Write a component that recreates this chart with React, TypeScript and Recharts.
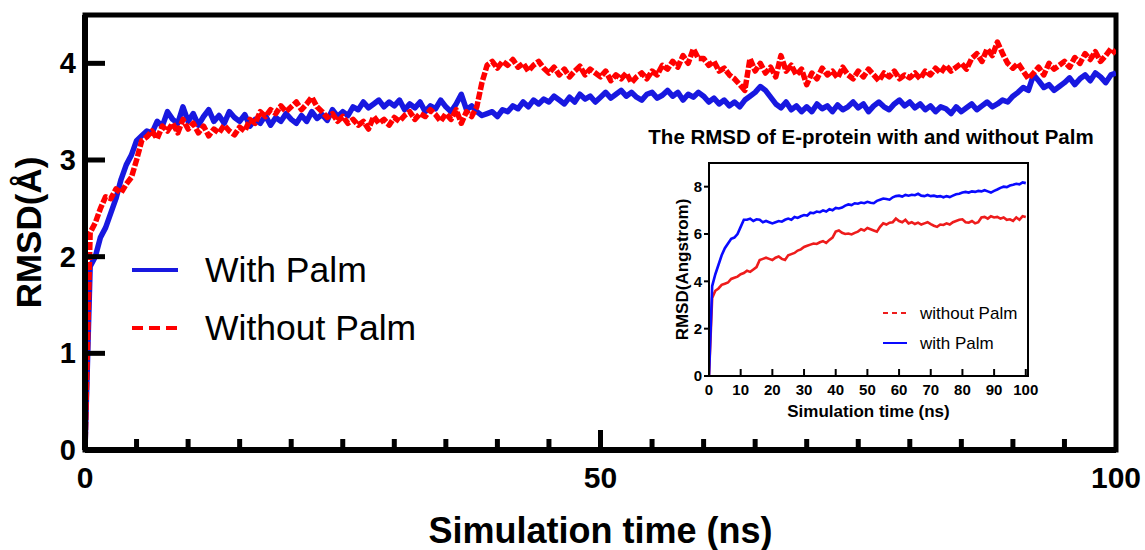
import React from 'react';
import { LineChart, Line, XAxis, YAxis, ReferenceArea, Legend } from 'recharts';

const FONT = "Arial, 'Liberation Sans', Helvetica, sans-serif";

// ---------- main chart data (0.5 ns step) ----------
const MAIN_TIME_STEP = 0.5;
const WITH_PALM = [
  0, 1.9, 2.0, 2.2, 2.3, 2.45, 2.6, 2.8, 2.95, 3.05,
  3.2, 3.25, 3.3, 3.28, 3.4, 3.35, 3.5, 3.42, 3.38, 3.55,
  3.4, 3.48, 3.36, 3.45, 3.52, 3.4, 3.46, 3.38, 3.5, 3.44,
  3.4, 3.47, 3.35, 3.42, 3.38, 3.46, 3.36, 3.44, 3.4, 3.48,
  3.42, 3.38, 3.46, 3.4, 3.5, 3.43, 3.47, 3.41, 3.52, 3.45,
  3.5, 3.46, 3.55, 3.52, 3.6, 3.54, 3.58, 3.62, 3.55, 3.6,
  3.56, 3.62, 3.52, 3.58, 3.54, 3.6, 3.5, 3.56, 3.53, 3.62,
  3.55, 3.5, 3.58, 3.68, 3.52, 3.56, 3.5, 3.46, 3.48, 3.5,
  3.45, 3.52, 3.5, 3.56, 3.53, 3.6, 3.55, 3.62, 3.58, 3.63,
  3.6, 3.66, 3.62, 3.58, 3.65, 3.6, 3.68, 3.63, 3.66, 3.6,
  3.65, 3.7, 3.64, 3.68, 3.72, 3.66, 3.7, 3.65, 3.62, 3.68,
  3.7, 3.64, 3.67, 3.72, 3.66, 3.7, 3.62, 3.68, 3.65, 3.7,
  3.66, 3.6, 3.64, 3.58, 3.62, 3.56, 3.6, 3.55, 3.62, 3.66,
  3.7, 3.76, 3.72, 3.65, 3.58, 3.54, 3.6, 3.52, 3.56, 3.5,
  3.55, 3.5, 3.58, 3.53, 3.56, 3.5, 3.57, 3.52, 3.55, 3.6,
  3.54, 3.58, 3.5, 3.56, 3.6, 3.55, 3.52, 3.58, 3.62, 3.56,
  3.6, 3.54, 3.58, 3.52, 3.56, 3.5, 3.55, 3.53, 3.48, 3.55,
  3.5, 3.54, 3.58, 3.52, 3.56, 3.6, 3.55, 3.58, 3.62, 3.6,
  3.66, 3.7, 3.75, 3.72, 3.88, 3.82, 3.75, 3.78, 3.72, 3.76,
  3.8, 3.85, 3.78, 3.84, 3.88, 3.82, 3.9, 3.86, 3.8, 3.88,
  3.9,
];
const WITHOUT_PALM = [
  0, 2.25, 2.35, 2.5, 2.62, 2.6, 2.7, 2.66, 2.75, 2.82,
  3.0, 3.2, 3.24, 3.3, 3.22, 3.35, 3.3, 3.38, 3.28, 3.42,
  3.32, 3.38, 3.28, 3.35, 3.25, 3.32, 3.28, 3.36, 3.3, 3.26,
  3.34, 3.3, 3.42, 3.38, 3.5, 3.45, 3.52, 3.48, 3.56, 3.5,
  3.55, 3.6, 3.52, 3.58, 3.65, 3.55, 3.5, 3.44, 3.48, 3.4,
  3.45, 3.38, 3.42, 3.36, 3.4, 3.32, 3.45, 3.38, 3.42, 3.36,
  3.44, 3.4, 3.46, 3.5, 3.42, 3.48, 3.45, 3.52, 3.47, 3.4,
  3.48, 3.42, 3.52, 3.38, 3.5, 3.45, 3.55, 3.8, 3.98, 4.02,
  3.95, 4.02, 3.98, 4.04, 3.96, 4.0, 3.92, 3.98, 4.02, 3.95,
  3.9, 3.96, 3.88, 3.94, 3.86, 3.92, 3.97, 3.88, 3.94, 3.9,
  3.86, 3.92, 3.82, 3.88, 3.84, 3.9, 3.8, 3.86, 3.9, 3.84,
  3.92, 3.88, 3.98, 3.94, 4.02, 3.96, 4.08, 4.0, 4.15, 4.05,
  4.05, 3.98, 4.02, 3.92, 3.95, 3.88, 3.84, 3.78, 3.72, 4.05,
  3.92, 4.0, 3.9, 3.96, 3.86, 4.08, 3.92, 3.98, 3.88, 3.94,
  3.78, 3.9, 3.84, 3.95, 3.88, 3.92, 3.85, 3.96, 3.88, 3.84,
  3.92, 3.86, 3.94, 3.88, 3.82, 3.9, 3.86, 3.92, 3.84, 3.88,
  3.85, 3.9, 3.84, 3.92, 3.88, 3.95, 3.9, 3.98, 3.92, 3.96,
  4.0, 3.94, 4.05, 4.1, 4.02, 4.15, 4.08, 4.22, 4.1, 4.0,
  3.95, 4.0, 3.92, 3.84, 3.9, 3.96, 3.88, 4.0, 3.94, 3.98,
  4.02, 3.96, 4.06, 4.0, 4.1, 4.04, 4.12, 4.02, 4.08, 4.15,
  4.1,
];
const MAIN_X_TICKS = [0, 5, 10, 15, 20, 25, 30, 35, 40, 45, 50, 55, 60, 65, 70, 75, 80, 85, 90, 95, 100];
const MAIN_X_LABELS = [0, 50, 100];
const MAIN_Y_TICKS = [0, 1, 2, 3, 4];

// ---------- inset data (1 ns step) ----------
const INSET_TIME_STEP = 1;
const INSET_WITH_PALM = [
  0, 3.8, 4.3, 4.7, 5.1, 5.4, 5.6, 5.8, 5.85, 6.0,
  6.3, 6.6, 6.6, 6.65, 6.55, 6.62, 6.6, 6.5, 6.55, 6.5,
  6.45, 6.5, 6.55, 6.52, 6.6, 6.65, 6.6, 6.72, 6.68, 6.75,
  6.8, 6.78, 6.9, 6.88, 6.95, 6.92, 7.0, 6.95, 7.05, 7.0,
  7.1, 7.08, 7.12, 7.2, 7.25, 7.22, 7.3, 7.28, 7.33, 7.3,
  7.36, 7.32, 7.3, 7.4, 7.45, 7.5, 7.48, 7.45, 7.55, 7.6,
  7.62, 7.58, 7.65, 7.62, 7.66, 7.64, 7.7, 7.62, 7.6, 7.65,
  7.6, 7.62, 7.58, 7.6, 7.55, 7.6, 7.56, 7.62, 7.68, 7.7,
  7.75, 7.78, 7.75, 7.8, 7.78, 7.82, 7.8, 7.85, 7.8, 7.75,
  7.82, 7.88, 7.95, 8.0, 7.98, 8.05, 8.08, 8.12, 8.1, 8.18,
  8.15,
];
const INSET_WITHOUT_PALM = [
  0, 3.3, 3.6, 3.7, 3.85, 3.9, 3.95, 4.1, 4.15, 4.2,
  4.3, 4.35, 4.45, 4.4, 4.5, 4.6, 4.9, 4.95, 5.0, 4.95,
  4.9, 5.0, 5.05, 4.95, 4.9, 5.1, 5.15, 5.2, 5.3, 5.35,
  5.45, 5.5, 5.55, 5.6, 5.58, 5.65, 5.7, 5.62, 5.75, 5.85,
  6.1, 6.15, 6.05, 6.0, 6.02, 5.98, 6.05, 6.1, 6.2, 6.15,
  6.25, 6.2, 6.15, 6.1, 6.3, 6.45, 6.4, 6.48, 6.5, 6.65,
  6.55, 6.5, 6.6, 6.45, 6.5, 6.42, 6.48, 6.4, 6.45, 6.5,
  6.42, 6.35, 6.3, 6.4, 6.38, 6.45, 6.4, 6.5, 6.55, 6.6,
  6.62, 6.5, 6.48, 6.55, 6.45, 6.5, 6.7, 6.72, 6.65, 6.75,
  6.7, 6.72, 6.65, 6.7, 6.6, 6.62, 6.55, 6.7, 6.6, 6.75,
  6.72,
];
const INSET_X_TICKS = [0, 10, 20, 30, 40, 50, 60, 70, 80, 90, 100];
const INSET_Y_TICKS = [0, 2, 4, 6, 8];

const mainData = WITH_PALM.map((v, i) => ({
  t: i * MAIN_TIME_STEP,
  withPalm: v,
  withoutPalm: WITHOUT_PALM[i],
}));
const insetData = INSET_WITH_PALM.map((v, i) => ({
  t: i * INSET_TIME_STEP,
  withPalm: v,
  withoutPalm: INSET_WITHOUT_PALM[i],
}));

const BLUE = '#1818e0';
const RED = '#ff0000';

const MainXTick = (props: any) => {
  const { x, y, payload } = props;
  const v = payload.value;
  const len = v === 50 ? 20 : 11;
  return (
    <g>
      {v !== 0 && v !== 100 && (
        <line x1={x} x2={x} y1={y} y2={y - len} stroke="#000" strokeWidth={5} />
      )}
      {MAIN_X_LABELS.includes(v) && (
        <text x={x} y={y + 38} textAnchor="middle" fontFamily={FONT} fontWeight="bold" fontSize={30} fill="#000">
          {v}
        </text>
      )}
    </g>
  );
};

const MainYTick = (props: any) => {
  const { x, y, payload } = props;
  const v = payload.value;
  return (
    <g>
      {v !== 0 && <line x1={x} x2={x + 20} y1={y} y2={y} stroke="#000" strokeWidth={5} />}
      <text x={x - 9} y={y} dy={10} textAnchor="end" fontFamily={FONT} fontWeight="bold" fontSize={29} fill="#000">
        {v}
      </text>
    </g>
  );
};

const InsetXTick = (props: any) => {
  const { x, y, payload } = props;
  const v = payload.value;
  return (
    <g>
      {v !== 0 && <line x1={x} x2={x} y1={y} y2={y - 7} stroke="#000" strokeWidth={2} />}
      <text x={x} y={y + 19} textAnchor="middle" fontFamily={FONT} fontWeight="bold" fontSize={15} fill="#000">
        {v}
      </text>
    </g>
  );
};

const MAIN_LEGEND_ORDER = ['With Palm', 'Without Palm'];
const MainLegend = (props: any) => {
  const payload = [...(props.payload || [])].sort(
    (a: any, b: any) => MAIN_LEGEND_ORDER.indexOf(a.value) - MAIN_LEGEND_ORDER.indexOf(b.value)
  );
  return (
    <svg width={330} height={110} style={{ display: 'block' }}>
      {payload.map((e: any, i: number) => {
        const cy = 25 + i * 58;
        return (
          <g key={e.value}>
            <line
              x1={7}
              x2={53}
              y1={cy}
              y2={cy}
              stroke={e.color}
              strokeWidth={4}
              strokeDasharray={e.value === 'Without Palm' ? '11 6' : undefined}
            />
            <text x={80} y={cy} dy={12} fontFamily={FONT} fontSize={35.5} fill="#000">
              {e.value}
            </text>
          </g>
        );
      })}
    </svg>
  );
};

const INSET_LEGEND_ORDER = ['without Palm', 'with Palm'];
const InsetLegend = (props: any) => {
  const payload = [...(props.payload || [])].sort(
    (a: any, b: any) => INSET_LEGEND_ORDER.indexOf(a.value) - INSET_LEGEND_ORDER.indexOf(b.value)
  );
  return (
    <svg width={190} height={60} style={{ display: 'block' }}>
      {payload.map((e: any, i: number) => {
        const cy = 13 + i * 30;
        return (
          <g key={e.value}>
            <line
              x1={3}
              x2={27}
              y1={cy}
              y2={cy}
              stroke={e.color}
              strokeWidth={2}
              strokeDasharray={e.value === 'without Palm' ? '5 4' : undefined}
            />
            <text x={40} y={cy} dy={6} fontFamily={FONT} fontSize={17} fill="#000">
              {e.value}
            </text>
          </g>
        );
      })}
    </svg>
  );
};

export default function App() {
  return (
    <div style={{ position: 'absolute', left: 0, top: 0, width: 1145, height: 550, background: '#fff' }}>
      <div style={{ position: 'absolute', left: 0, top: 0 }}>
        <LineChart width={1145} height={550} data={mainData} margin={{ top: 15, right: 29, left: 0, bottom: 0 }}>
          <XAxis
            dataKey="t"
            type="number"
            domain={[0, 100]}
            ticks={MAIN_X_TICKS}
            interval={0}
            allowDataOverflow
            height={100}
            tickSize={0}
            tickMargin={0}
            tickLine={false}
            axisLine={{ stroke: '#000', strokeWidth: 6 }}
            tick={MainXTick}
            label={{
              value: 'Simulation time (ns)',
              position: 'insideBottom',
              offset: 7,
              style: { fontFamily: FONT, fontWeight: 'bold', fontSize: 36, fill: '#000' },
            }}
          />
          <YAxis
            type="number"
            domain={[0, 4.5]}
            ticks={MAIN_Y_TICKS}
            interval={0}
            allowDataOverflow
            width={85}
            tickSize={0}
            tickMargin={0}
            tickLine={false}
            axisLine={{ stroke: '#000', strokeWidth: 6 }}
            tick={MainYTick}
            label={{
              value: 'RMSD(Å)',
              angle: -90,
              position: 'insideLeft',
              offset: 29,
              style: { textAnchor: 'middle', fontFamily: FONT, fontWeight: 'bold', fontSize: 35, fill: '#000' },
            }}
          />
          <ReferenceArea x1={0} x2={100} y1={0} y2={4.5} fill="none" fillOpacity={0} stroke="#000" strokeWidth={5} ifOverflow="visible" />
          <Line
            name="With Palm"
            dataKey="withPalm"
            type="linear"
            stroke={BLUE}
            strokeWidth={5.5}
            strokeLinejoin="round"
            dot={false}
            isAnimationActive={false}
          />
          <Line
            name="Without Palm"
            dataKey="withoutPalm"
            type="linear"
            stroke={RED}
            strokeWidth={5.5}
            strokeDasharray="8 2"
            strokeLinejoin="round"
            dot={false}
            isAnimationActive={false}
          />
          <Legend
            layout="vertical"
            align="center"
            verticalAlign="middle"
            wrapperStyle={{ left: 125, top: 245, width: 330, height: 110 }}
            content={MainLegend}
          />
        </LineChart>
      </div>

      <div
        style={{
          position: 'absolute',
          left: 640,
          top: 125,
          width: 462,
          textAlign: 'center',
          fontFamily: FONT,
          fontWeight: 'bold',
          fontSize: 20.5,
          color: '#000',
          whiteSpace: 'nowrap',
        }}
      >
        The RMSD of E-protein with and without Palm
      </div>

      <div style={{ position: 'absolute', left: 640, top: 150 }}>
        <LineChart width={420} height={280} data={insetData} margin={{ top: 13, right: 32, left: 0, bottom: 0 }}>
          <XAxis
            dataKey="t"
            type="number"
            domain={[0, 100.7]}
            ticks={INSET_X_TICKS}
            interval={0}
            allowDataOverflow
            height={54}
            tickSize={0}
            tickMargin={0}
            tickLine={false}
            axisLine={{ stroke: '#000', strokeWidth: 2 }}
            tick={InsetXTick}
            label={{
              value: 'Simulation time (ns)',
              position: 'insideBottom',
              offset: 13,
              style: { fontFamily: FONT, fontWeight: 'bold', fontSize: 17, fill: '#000' },
            }}
          />
          <YAxis
            type="number"
            domain={[0, 9]}
            ticks={INSET_Y_TICKS}
            interval={0}
            allowDataOverflow
            width={69}
            tickSize={5}
            tickMargin={2}
            tickLine={{ stroke: '#000', strokeWidth: 2 }}
            axisLine={{ stroke: '#000', strokeWidth: 2 }}
            tick={{ fontFamily: FONT, fontWeight: 'bold', fontSize: 15, fill: '#000' }}
            label={{
              value: 'RMSD(Angstrom)',
              angle: -90,
              position: 'insideLeft',
              offset: 42,
              style: { textAnchor: 'middle', fontFamily: FONT, fontWeight: 'bold', fontSize: 17, fill: '#000' },
            }}
          />
          <ReferenceArea x1={0} x2={100.7} y1={0} y2={9} fill="none" fillOpacity={0} stroke="#000" strokeWidth={2} ifOverflow="visible" />
          <Line
            name="without Palm"
            dataKey="withoutPalm"
            type="linear"
            stroke="#ee1c1c"
            strokeWidth={2.6}
            dot={false}
            isAnimationActive={false}
          />
          <Line
            name="with Palm"
            dataKey="withPalm"
            type="linear"
            stroke="#0a0aff"
            strokeWidth={2.6}
            dot={false}
            isAnimationActive={false}
          />
          <Legend
            layout="vertical"
            align="center"
            verticalAlign="middle"
            wrapperStyle={{ left: 240, top: 150, width: 190, height: 60 }}
            content={InsetLegend}
          />
        </LineChart>
      </div>
    </div>
  );
}
